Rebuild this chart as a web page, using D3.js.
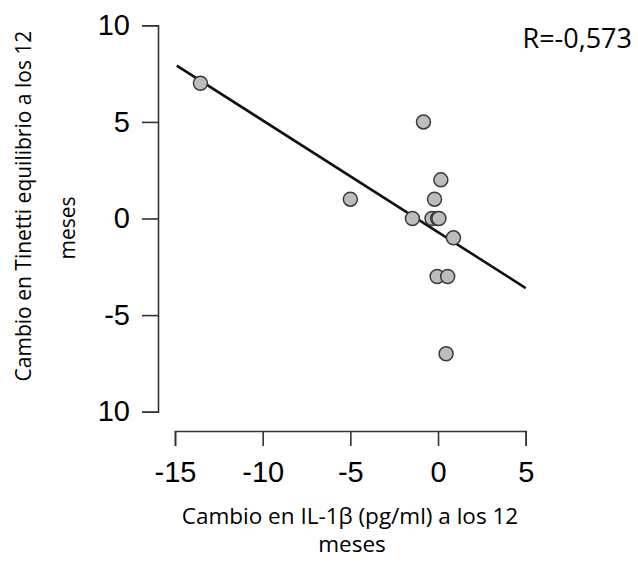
<!DOCTYPE html>
<html>
<head>
<meta charset="utf-8">
<script src="https://cdn.jsdelivr.net/npm/d3@7"></script>
<style>
  body { margin: 0; background: #fff; }
  .tick text { font-family: "Liberation Sans", Arial, sans-serif; }
  .title { font-family: "Open Sans", "Noto Sans", sans-serif; fill: #000; }
</style>
</head>
<body>
<svg id="chart" width="638" height="568"></svg>
<script>
// data
let xVals = [-13.55, -5.0, -0.83, 0.16, -0.2, -1.46, -0.34, -0.02, 0.05, 0.88, -0.05, 0.55, 0.46];
let yVals = [7, 1, 5, 2, 1, 0, 0, 0, 0, -1, -3, -3, -7];
let xTicks = [-15, -10, -5, 0, 5];
let yTicks = [10, 5, 0, -5, -10];
let yTickLabels = ['10', '5', '0', '-5', '10'];   // bottom label reads "10" in the original
let rLabel = 'R=-0,573';

let svg = d3.select('#chart');

let x = d3.scaleLinear().domain([-15, 5]).range([175, 525.7]);
let y = d3.scaleLinear().domain([-10, 10]).range([411.7, 25.3]);

// y axis
let yAxis = d3.axisLeft(y)
    .tickValues(yTicks)
    .tickSize(16)
    .tickPadding(12)
    .tickFormat((d, i) => yTickLabels[i]);
let gy = svg.append('g')
    .attr('transform', 'translate(158,0)')
    .call(yAxis);

// x axis
let xAxis = d3.axisBottom(x)
    .tickValues(xTicks)
    .tickSize(15)
    .tickPadding(15)
    .tickFormat(d3.format('d'));
let gx = svg.append('g')
    .attr('transform', 'translate(0,431)')
    .call(xAxis);

[gx, gy].forEach(g => {
    g.select('.domain').attr('stroke', '#333').attr('stroke-width', 1.6);
    g.selectAll('.tick line').attr('stroke', '#333').attr('stroke-width', 1.6);
    g.selectAll('.tick text').attr('font-size', 29).attr('fill', '#000');
});
gx.selectAll('.tick text').text(d => d < 0 ? '-' + Math.abs(d) : d);

// least squares line
let mx = d3.mean(xVals), my = d3.mean(yVals);
let sxy = d3.sum(xVals, (v, i) => (v - mx) * (yVals[i] - my));
let sxx = d3.sum(xVals, v => (v - mx) * (v - mx));
let slope = sxy / sxx;
let intercept = my - slope * mx;

svg.append('line')
    .attr('x1', x(-14.9)).attr('y1', y(intercept + slope * -14.9))
    .attr('x2', x(5)).attr('y2', y(intercept + slope * 5))
    .attr('stroke', '#111')
    .attr('stroke-width', 2.6);

// points
svg.selectAll('.pt')
    .data(xVals.map((v, i) => ({x: v, y: yVals[i]})))
    .join('circle')
    .classed('pt', true)
    .attr('cx', d => x(d.x))
    .attr('cy', d => y(d.y))
    .attr('r', 7)
    .attr('fill', '#bdbdbd')
    .attr('stroke', '#3a3a3a')
    .attr('stroke-width', 1.5);

// titles
svg.append('text')
    .classed('title', true)
    .attr('x', 350).attr('y', 524)
    .attr('text-anchor', 'middle')
    .attr('font-size', 22.5)
    .text('Cambio en IL-1β (pg/ml) a los 12');
svg.append('text')
    .classed('title', true)
    .attr('x', 352).attr('y', 552)
    .attr('text-anchor', 'middle')
    .attr('font-size', 22.5)
    .text('meses');

svg.append('text')
    .classed('title', true)
    .attr('transform', 'translate(31,206) rotate(-90)')
    .attr('text-anchor', 'middle')
    .attr('font-size', 21)
    .text('Cambio en Tinetti equilibrio a los 12');
svg.append('text')
    .classed('title', true)
    .attr('transform', 'translate(75,228) rotate(-90)')
    .attr('text-anchor', 'middle')
    .attr('font-size', 21)
    .text('meses');

svg.append('text')
    .classed('title', true)
    .attr('x', 632).attr('y', 48)
    .attr('text-anchor', 'end')
    .attr('font-size', 27)
    .text(rLabel);
</script>
</body>
</html>
